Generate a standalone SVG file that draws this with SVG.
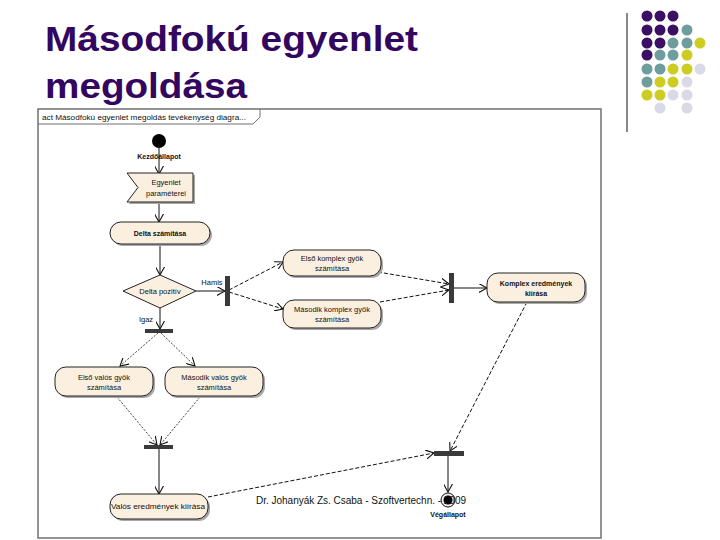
<svg xmlns="http://www.w3.org/2000/svg" width="720" height="540" viewBox="0 0 720 540">
<defs>
<style>
.title{font-family:"Liberation Sans",Arial,sans-serif;font-size:35px;font-weight:bold;fill:#33065f}
.t{font-family:"Liberation Sans",Arial,sans-serif;font-size:7.5px;fill:#111;text-anchor:middle}
.tb{font-family:"Liberation Sans",Arial,sans-serif;font-size:7px;font-weight:bold;fill:#111;text-anchor:middle}
.node{fill:#fbf0e0;stroke:#222;stroke-width:1}
.sh{fill:#a8a8a8}
.bar{fill:#3a3a3a}
.solid{stroke:#111;stroke-width:1;fill:none;marker-end:url(#ah)}
.dash{stroke:#111;stroke-width:1;fill:none;stroke-dasharray:4,2;marker-end:url(#ah)}
.dot{stroke:#111;stroke-width:0.8;fill:none;stroke-dasharray:2,1.5;marker-end:url(#ah)}
.p{fill:#3b0f63}.c{fill:#6f9c9c}.y{fill:#cccc22}.l{fill:#d9d9e8}
</style>
<marker id="ah" viewBox="0 0 10 10" refX="9" refY="5" markerWidth="9" markerHeight="9" markerUnits="userSpaceOnUse" orient="auto">
<path d="M0,0 L9,5 L0,10" fill="none" stroke="#111" stroke-width="1.2"/>
</marker>
</defs>
<rect width="720" height="540" fill="#fff"/>
<g id="title">
<text class="title" x="45" y="51" textLength="373" lengthAdjust="spacingAndGlyphs">Másodfokú egyenlet</text>
<text class="title" x="45" y="98" textLength="202" lengthAdjust="spacingAndGlyphs">megoldása</text>
</g>
<g id="decor">
<line x1="627" y1="13" x2="627" y2="132" stroke="#111" stroke-width="1"/>
<circle class="p" cx="647" cy="16" r="5.5"/><circle class="p" cx="660" cy="16" r="5.5"/><circle class="p" cx="673" cy="16" r="5.5"/>
<circle class="p" cx="647" cy="30" r="5.5"/><circle class="p" cx="660" cy="30" r="5.5"/><circle class="p" cx="673" cy="30" r="5.5"/><circle class="c" cx="687" cy="30" r="5.5"/>
<circle class="p" cx="647" cy="43" r="5.5"/><circle class="p" cx="660" cy="43" r="5.5"/><circle class="c" cx="673" cy="43" r="5.5"/><circle class="c" cx="687" cy="43" r="5.5"/><circle class="y" cx="700" cy="43" r="5.5"/>
<circle class="p" cx="647" cy="55" r="5.5"/><circle class="c" cx="660" cy="55" r="5.5"/><circle class="c" cx="673" cy="55" r="5.5"/><circle class="y" cx="687" cy="55" r="5.5"/>
<circle class="c" cx="647" cy="69" r="5.5"/><circle class="c" cx="660" cy="69" r="5.5"/><circle class="y" cx="673" cy="69" r="5.5"/><circle class="y" cx="687" cy="69" r="5.5"/><circle class="l" cx="700" cy="69" r="5.5"/>
<circle class="c" cx="647" cy="82" r="5.5"/><circle class="y" cx="660" cy="82" r="5.5"/><circle class="y" cx="673" cy="82" r="5.5"/><circle class="l" cx="687" cy="82" r="5.5"/>
<circle class="y" cx="647" cy="95" r="5.5"/><circle class="y" cx="660" cy="95" r="5.5"/><circle class="l" cx="673" cy="95" r="5.5"/><circle class="l" cx="687" cy="95" r="5.5"/>
<circle class="l" cx="660" cy="108" r="5.5"/><circle class="l" cx="687" cy="108" r="5.5"/>
</g>
<g id="frame">
<rect x="38" y="109" width="563" height="429" fill="#fff" stroke="#707070" stroke-width="1.5"/>
<path d="M38,124 H253 L260,117 V109" fill="none" stroke="#707070" stroke-width="1"/>
<text x="42" y="120" font-family="'Liberation Sans',Arial,sans-serif" font-size="7" fill="#111" textLength="204" lengthAdjust="spacingAndGlyphs">act Másodfokú egyenlet megoldás tevékenység diagra...</text>
</g>
<g id="connectors">
<line class="solid" x1="159" y1="148" x2="159" y2="174"/>
<line class="solid" x1="159" y1="202" x2="159" y2="222"/>
<line class="solid" x1="160" y1="245" x2="160" y2="275"/>
<line class="solid" x1="196" y1="291" x2="225" y2="291"/>
<line class="solid" x1="160" y1="308" x2="160" y2="329"/>
<line class="dash" x1="229" y1="290" x2="283" y2="262"/>
<line class="dash" x1="229" y1="292" x2="283" y2="309"/>
<line class="dash" x1="378" y1="272" x2="449" y2="284"/>
<line class="dash" x1="380" y1="302" x2="449" y2="290"/>
<line class="solid" x1="454" y1="288" x2="487" y2="288"/>
<line class="dot" x1="158" y1="333" x2="120" y2="366"/>
<line class="dot" x1="161" y1="333" x2="195" y2="366"/>
<line class="dot" x1="117" y1="397" x2="157" y2="445"/>
<line class="dot" x1="200" y1="397" x2="160" y2="445"/>
<line class="solid" x1="159" y1="449" x2="159" y2="494"/>
<line class="dash" x1="208" y1="497" x2="434" y2="453"/>
<line class="dash" x1="527" y1="302" x2="450" y2="451"/>
<line class="solid" x1="448" y1="456" x2="448" y2="492"/>
</g>
<g id="start">
<circle cx="159" cy="141" r="7" fill="#000"/>
<text class="tb" x="159" y="159">Kezdőállapot</text>
</g>
<g id="egyenlet-parameterei">
<polygon class="sh" points="129,175 195,175 195,204 129,204 140,189.5"/>
<polygon class="node" points="127,173 193,173 193,202 127,202 138,187.5"/>
<text class="t" x="166" y="185">Egyenlet</text>
<text class="t" x="166" y="196">paraméterei</text>
</g>
<g id="delta-szamitasa">
<rect class="sh" x="112" y="224" width="100" height="22" rx="11"/>
<rect class="node" x="110" y="222" width="100" height="22" rx="11"/>
<text class="tb" x="160" y="236">Delta számítása</text>
</g>
<g id="delta-pozitiv">
<polygon class="node" points="160,275 196,291 160,308 123,291"/>
<text class="t" x="160" y="294">Delta pozitív</text>
<text class="t" x="212" y="285">Hamis</text>
<text class="t" x="146" y="322">Igaz</text>
</g>
<g id="fork-hamis"><rect class="bar" x="225" y="276" width="5" height="30"/></g>
<g id="elso-komplex">
<rect class="sh" x="285" y="252" width="98" height="26" rx="11"/>
<rect class="node" x="283" y="250" width="98" height="26" rx="11"/>
<text class="t" x="332" y="261">Első komplex gyök</text>
<text class="t" x="332" y="271">számítása</text>
</g>
<g id="masodik-komplex">
<rect class="sh" x="285" y="302" width="98" height="28" rx="11"/>
<rect class="node" x="283" y="300" width="98" height="28" rx="11"/>
<text class="t" x="332" y="312">Második komplex gyök</text>
<text class="t" x="332" y="322">számítása</text>
</g>
<g id="join-komplex"><rect class="bar" x="449" y="273" width="5" height="30"/></g>
<g id="komplex-kiiras">
<rect class="sh" x="489" y="275" width="98" height="29" rx="11"/>
<rect class="node" x="487" y="273" width="98" height="29" rx="11"/>
<text class="tb" x="536" y="286">Komplex eredmények</text>
<text class="tb" x="536" y="296">kiírása</text>
</g>
<g id="fork-igaz"><rect class="bar" x="145" y="329" width="28" height="4"/></g>
<g id="elso-valos">
<rect class="sh" x="57" y="369" width="98" height="29" rx="11"/>
<rect class="node" x="55" y="367" width="98" height="29" rx="11"/>
<text class="t" x="104" y="380">Első valós gyök</text>
<text class="t" x="104" y="390">számítása</text>
</g>
<g id="masodik-valos">
<rect class="sh" x="167" y="369" width="98" height="29" rx="11"/>
<rect class="node" x="165" y="367" width="98" height="29" rx="11"/>
<text class="t" x="214" y="380">Második valós gyök</text>
<text class="t" x="214" y="390">számítása</text>
</g>
<g id="join-valos"><rect class="bar" x="144" y="445" width="29" height="4"/></g>
<g id="valos-kiiras">
<rect class="sh" x="112" y="496" width="98" height="25" rx="11"/>
<rect class="node" x="110" y="494" width="98" height="25" rx="11"/>
<text class="t" x="158" y="509" textLength="94" lengthAdjust="spacingAndGlyphs">Valós eredmények kiírása</text>
</g>
<g id="join-final"><rect class="bar" x="434" y="451" width="30" height="5"/></g>
<g id="end">
<circle cx="448" cy="500" r="7" fill="#eee" stroke="#111" stroke-width="1"/>
<circle cx="448" cy="500" r="4.5" fill="#000"/>
<text class="tb" x="448" y="517">Végállapot</text>
</g>
<g id="footer">
<text x="256" y="504" font-family="'Liberation Sans',Arial,sans-serif" font-size="10" fill="#111" textLength="210" lengthAdjust="spacing">Dr. Johanyák Zs. Csaba - Szoftvertechn. - 2009</text>
</g>
</svg>
